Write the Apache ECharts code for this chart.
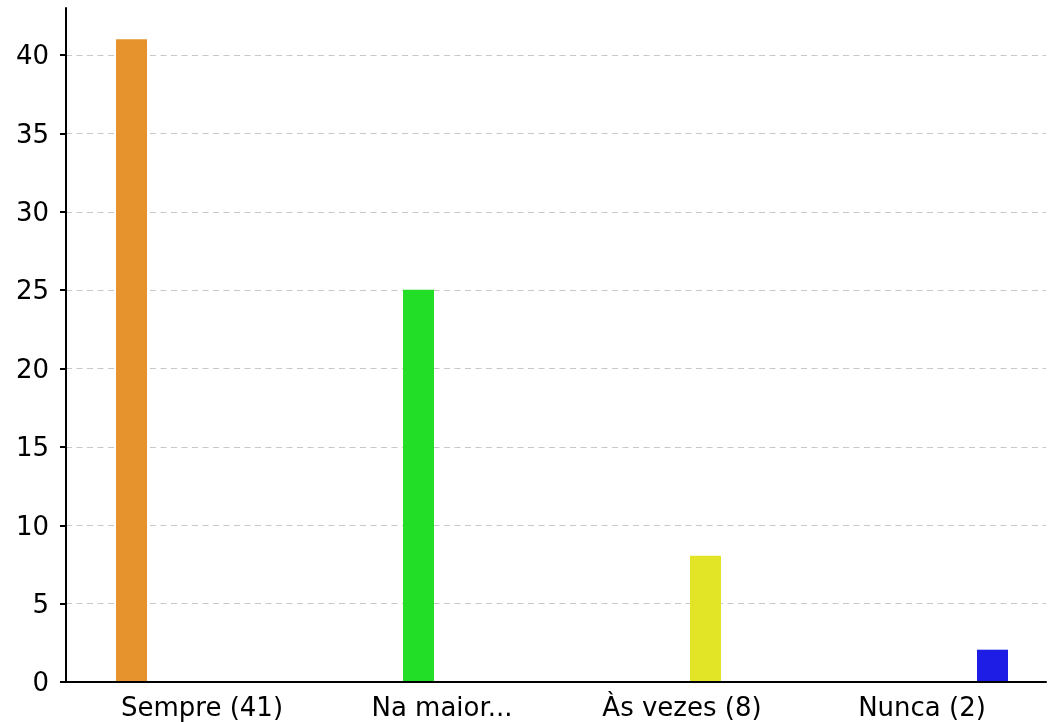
<!DOCTYPE html>
<html><head><meta charset="utf-8">
<script src="https://cdn.jsdelivr.net/npm/echarts@6/dist/echarts.min.js"></script>
<style>html,body{margin:0;padding:0;background:#fff}#c{width:1048px;height:722px}</style>
</head><body><div id="c"></div>
<script>
const categories = ['Sempre (41)', 'Na maior...', 'Às vezes (8)', 'Nunca (2)'];
const seriesNames = ['Sempre', 'Na maior parte das vezes', 'Às vezes', 'Nunca'];
const sempre = [41, 0, 0, 0];
const naMaior = [0, 25, 0, 0];
const asVezes = [0, 0, 8, 0];
const nunca = [0, 0, 0, 2];
const yTicks = [0, 5, 10, 15, 20, 25, 30, 35, 40];
const colors = ['#E6932D', '#23DE26', '#E2E426', '#1D1DE5'];

const seriesData = [sempre, naMaior, asVezes, nunca];
const font = "'DejaVu Sans', sans-serif";
const chart = echarts.init(document.getElementById('c'), null, {renderer: 'canvas'});
chart.setOption({
  animation: false,
  grid: [
    {left: 66, right: 2, top: 8, bottom: 40},
    {left: 82, right: 6, top: 8, bottom: 40}
  ],
  xAxis: [
    {type: 'category', gridIndex: 0, data: categories,
     axisLine: {show: true, lineStyle: {color: '#000', width: 2}},
     axisTick: {show: false}, axisLabel: {show: false}, splitLine: {show: false}},
    {type: 'category', gridIndex: 1, data: categories,
     axisLine: {show: false}, axisTick: {show: false},
     axisLabel: {show: true, fontFamily: font, fontSize: 26, color: '#000', margin: 15}}
  ],
  yAxis: [
    {type: 'value', gridIndex: 0, min: 0, max: 43, interval: 5,
     axisLine: {show: true, lineStyle: {color: '#000', width: 2}},
     axisTick: {show: true, length: 6, lineStyle: {color: '#000', width: 2}, customValues: yTicks},
     axisLabel: {margin: 17, customValues: yTicks, formatter: '{a|{value}}',
       rich: {a: {fontFamily: font, fontSize: 26, color: '#000', padding: [5, 0, 0, 0]}}},
     splitLine: {show: true, lineStyle: {color: '#c8c8c8', type: [6, 4.5], width: 1}}},
    {type: 'value', gridIndex: 1, min: 0, max: 43, interval: 5, show: false,
     splitLine: {show: false}}
  ],
  series: seriesData.map((d, i) => ({
    type: 'bar', name: seriesNames[i], xAxisIndex: 1, yAxisIndex: 1,
    data: d, barWidth: 31, barGap: '51.6%',
    itemStyle: {color: colors[i]}
  }))
});
</script></body></html>
